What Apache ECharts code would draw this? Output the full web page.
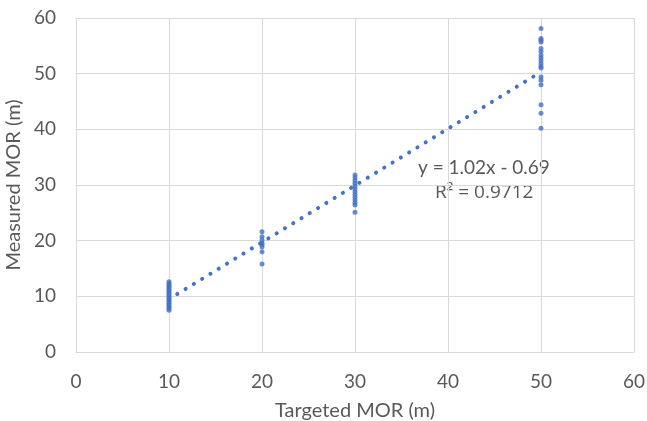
<!DOCTYPE html>
<html><head><meta charset="utf-8">
<script src="https://cdn.jsdelivr.net/npm/echarts@6/dist/echarts.min.js"></script>
<style>html,body{margin:0;padding:0;background:#fff}#c{width:647px;height:421px}</style>
</head><body><div id="c"></div>
<script>
const xTarget10 = [12.6,12.3,12.0,11.7,11.4,11.1,10.8,10.5,10.2,9.9,9.6,9.3,9.0,8.7,8.4,8.1,7.8,7.5];
const xTarget20 = [21.6,20.7,20.1,19.6,19.3,18.9,18.0,15.8];
const xTarget30 = [31.8,31.3,30.8,30.3,29.8,29.3,28.8,28.3,27.8,27.3,26.8,26.4,25.1];
const xTarget50 = [58.1,56.3,56.0,55.7,54.5,54.0,53.3,52.8,52.3,51.8,51.3,51.0,49.4,48.8,48.0,44.4,42.9,40.2];
const slope = 1.02, intercept = -0.69;
const trendX = [10, 50];
const xTicks = [0,10,20,30,40,50,60];
const eqText = 'y = 1.02x - 0.69';
const r2Text = 'R² = 0.9712';

const pts = [];
[[10,xTarget10],[20,xTarget20],[30,xTarget30],[50,xTarget50]].forEach(([x,arr])=>arr.forEach(v=>pts.push([x,v])));
const trend = trendX.map(x=>[x, slope*x+intercept]);

const font = 'Lato, "Open Sans", sans-serif';
const chart = echarts.init(document.getElementById('c'), null, {renderer:'canvas'});
chart.setOption({
  animation:false,
  grid:{left:76,right:13,top:18,bottom:69,containLabel:false,outerBoundsMode:'none'},
  xAxis:{type:'value',min:0,max:60,interval:10,
    name:'Targeted MOR (m)',nameLocation:'middle',nameGap:49,
    nameTextStyle:{color:'#595959',fontSize:20,fontFamily:font},
    axisLine:{show:true,lineStyle:{color:'#d9d9d9'}},axisTick:{show:false},
    axisLabel:{color:'#595959',fontSize:19,fontFamily:font,margin:20},
    splitLine:{show:true,lineStyle:{color:'#d9d9d9',width:1}}},
  yAxis:{type:'value',min:0,max:60,interval:10,
    name:'Measured MOR (m)',nameLocation:'middle',nameGap:45,
    nameTextStyle:{color:'#595959',fontSize:20,fontFamily:font},
    axisLine:{show:true,lineStyle:{color:'#d9d9d9'}},axisTick:{show:false},
    axisLabel:{color:'#595959',fontSize:19,fontFamily:font,margin:20},
    splitLine:{show:true,lineStyle:{color:'#d9d9d9',width:1}}},
  series:[
    {type:'line',data:trend,symbol:'none',z:2,
     lineStyle:{color:'#4472C4',width:4,type:[0.1,9.6],cap:'round'}},
    {type:'scatter',data:pts,symbolSize:5,z:3,itemStyle:{color:'#4472C4'}}
  ],
  graphic:[
    {type:'text',left:418,top:158,style:{text:eqText,fill:'#595959',font:'19px '+font}},
    {type:'text',left:435,top:183,style:{text:r2Text,fill:'#595959',font:'19px "Open Sans", sans-serif'}}
  ]
});
</script></body></html>
